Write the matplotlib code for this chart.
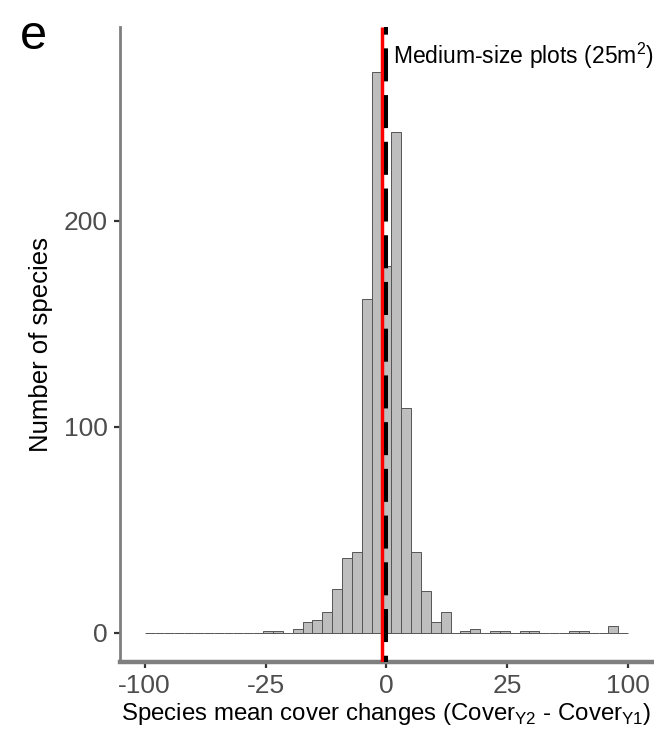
import numpy as np
import matplotlib
matplotlib.use("Agg")
import matplotlib.pyplot as plt

plt.rcParams['font.family'] = ['Liberation Sans', 'DejaVu Sans']
plt.rcParams['mathtext.fontset'] = 'custom'
plt.rcParams['mathtext.rm'] = 'Liberation Sans'

# histogram bins, equal width on the signed sqrt scale (-10..10 -> -100..100)
bin_edges_sqrt = np.linspace(-10, 10, 50)
counts = [0, 0, 0, 0, 0, 0, 0, 0, 0, 0, 0, 0,
          1, 1, 0, 2, 5, 6, 10, 21, 36, 39, 162, 272,
          178,
          243, 109, 39, 20, 5, 10, 0, 1, 2, 0, 1, 1,
          0, 1, 1, 0, 0, 0, 1, 1, 0, 0, 3, 0]

x_ticks = [-100, -25, 0, 25, 100]
x_tick_labels = ['-100', '-25', '0', '25', '100']
y_ticks = [0, 100, 200]

mean_change = -0.03   # red line
zero_line = 0         # dashed reference
label_y = 280
label_text = 'Medium-size plots (25m$^{\\mathregular{2}}$)'


def fwd(x):
    x = np.asarray(x, dtype=float)
    return np.sign(x) * np.sqrt(np.abs(x))


def inv(y):
    y = np.asarray(y, dtype=float)
    return np.sign(y) * y ** 2


fig = plt.figure(figsize=(6.54, 7.35), dpi=100)
ax = fig.add_axes([0.1842, 0.1, 0.9974 - 0.1842, 0.9633 - 0.1])
ax.set_xscale('function', functions=(fwd, inv))

edges = inv(bin_edges_sqrt)
ax.bar(edges[:-1], counts, width=edges[1:] - edges[:-1], align='edge',
       color='#BEBEBE', edgecolor='#555555', linewidth=0.7, zorder=2)

ylim = (-14, 294)
ax.plot([mean_change, mean_change], [ylim[1], ylim[0]], color='#FF0000',
        lw=2.5, zorder=3, solid_capstyle='butt')
ax.plot([zero_line, zero_line], [ylim[1], ylim[0]], color='black', lw=2.9,
        linestyle=(6.3, (8.2, 3.4)), zorder=4, dash_capstyle='butt')

ax.annotate(label_text, xy=(zero_line, label_y), xytext=(4.8, 0),
            textcoords='offset points', ha='left', va='center',
            fontsize=16.5, color='black')

ax.set_xlim(inv(-11), inv(11))
ax.set_ylim(*ylim)
ax.set_xticks(x_ticks)
ax.set_xticklabels(x_tick_labels)
ax.set_yticks(y_ticks)
ax.minorticks_off()

for s in ['top', 'right']:
    ax.spines[s].set_visible(False)
ax.spines['left'].set_color('#7F7F7F')
ax.spines['left'].set_linewidth(2.0)
ax.spines['bottom'].set_color('#7F7F7F')
ax.spines['bottom'].set_linewidth(3.2)

ax.tick_params(axis='both', length=4, width=1.6, color='#333333',
               labelcolor='#4D4D4D', labelsize=19, pad=5)

ax.set_ylabel('Number of species', fontsize=18.5, labelpad=8)
ax.set_xlabel('Species mean cover changes (Cover$_{\\mathregular{Y2}}$ - Cover$_{\\mathregular{Y1}}$)',
              fontsize=17.3, labelpad=2)

fig.text(0.03, 0.934, 'e', fontsize=35, color='black')

fig.savefig('out.png', dpi=100)
